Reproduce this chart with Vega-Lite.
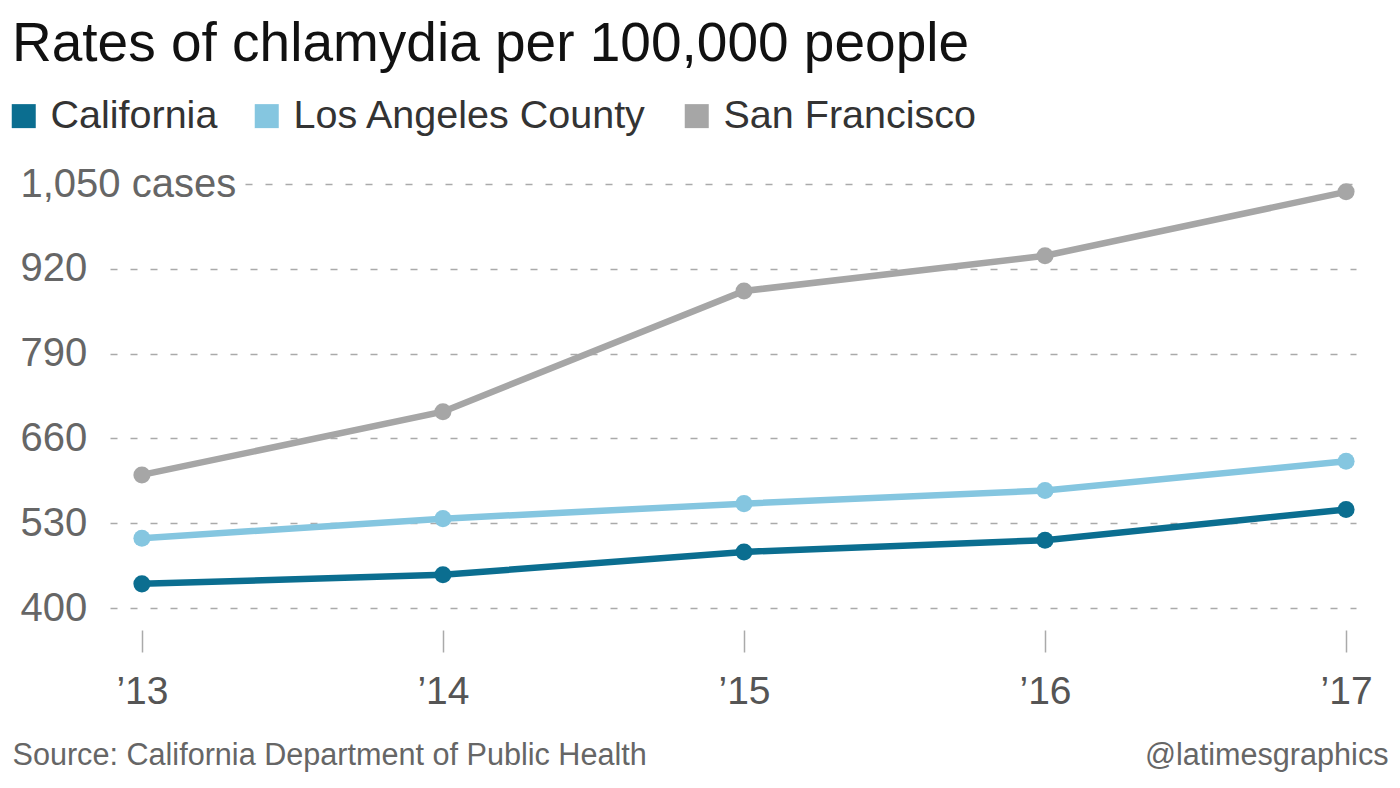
{
  "$schema": "https://vega.github.io/schema/vega-lite/v6.json",
  "width": 1246,
  "height": 424,
  "autosize": {"type": "none"},
  "padding": {"left": 110, "top": 184, "right": 44, "bottom": 180},
  "background": "white",
  "config": {
    "font": "Liberation Sans",
    "view": {"stroke": null}
  },
  "title": {
    "text": "Rates of chlamydia per 100,000 people",
    "anchor": "start",
    "frame": "group",
    "orient": "top",
    "fontSize": 55,
    "fontWeight": "normal",
    "color": "#111111",
    "dx": -98,
    "offset": 0,
    "baseline": "alphabetic",
    "dy": 20
  },
  "data": {
    "values": [
      {"year": 2013, "series": "California", "rate": 437},
      {"year": 2014, "series": "California", "rate": 451},
      {"year": 2015, "series": "California", "rate": 486},
      {"year": 2016, "series": "California", "rate": 504},
      {"year": 2017, "series": "California", "rate": 551},
      {"year": 2013, "series": "Los Angeles County", "rate": 507},
      {"year": 2014, "series": "Los Angeles County", "rate": 537},
      {"year": 2015, "series": "Los Angeles County", "rate": 560},
      {"year": 2016, "series": "Los Angeles County", "rate": 580},
      {"year": 2017, "series": "Los Angeles County", "rate": 625},
      {"year": 2013, "series": "San Francisco", "rate": 604},
      {"year": 2014, "series": "San Francisco", "rate": 701},
      {"year": 2015, "series": "San Francisco", "rate": 886},
      {"year": 2016, "series": "San Francisco", "rate": 940},
      {"year": 2017, "series": "San Francisco", "rate": 1038}
    ]
  },
  "encoding": {
    "x": {
      "field": "year",
      "type": "quantitative",
      "scale": {"domain": [2012.894, 2017.033], "nice": false, "zero": false},
      "axis": {
        "values": [2013, 2014, 2015, 2016, 2017],
        "labelExpr": "'’' + substring(toString(datum.value), 2)",
        "grid": false,
        "domain": false,
        "offset": 22,
        "ticks": true,
        "tickSize": 22,
        "tickColor": "#aaaaaa",
        "tickWidth": 1.5,
        "labelFontSize": 39,
        "labelColor": "#555555",
        "labelPadding": 20,
        "labelFlush": false,
        "title": "Source: California Department of Public Health",
        "titleFontSize": 30.6,
        "titleFontWeight": "normal",
        "titleColor": "#666666",
        "titleAnchor": "start",
        "titleAlign": "left",
        "titleBaseline": "middle",
        "titleX": -98,
        "titleY": 125
      }
    },
    "y": {
      "field": "rate",
      "type": "quantitative",
      "scale": {"domain": [400, 1050], "nice": false, "zero": false},
      "axis": {
        "values": [400, 530, 660, 790, 920, 1050],
        "labelExpr": "datum.value == 1050 ? '1,050 cases' : datum.label",
        "domain": false,
        "ticks": false,
        "tickSize": 0,
        "grid": true,
        "gridColor": "#aaaaaa",
        "gridWidth": 1.5,
        "gridDash": {
          "condition": {"test": "datum.value == 1050", "value": [0, 135, 7, 13, 7, 13, 7, 13, 7, 13, 7, 13, 7, 13, 7, 13, 7, 13, 7, 13, 7, 13, 7, 13, 7, 13, 7, 13, 7, 13, 7, 13, 7, 13, 7, 13, 7, 13, 7, 13, 7, 13, 7, 13, 7, 13, 7, 13, 7, 13, 7, 13, 7, 13, 7, 13, 7, 13, 7, 13, 7, 13, 7, 13, 7, 13, 7, 13, 7, 13, 7, 13, 7, 13, 7, 13, 7, 13, 7, 13, 7, 13, 7, 13, 7, 13, 7, 13, 7, 13, 7, 13, 7, 13, 7, 13, 7, 13, 7, 13, 7, 13, 7, 13, 7, 13, 7, 13, 7, 13, 7, 13, 7, 13, 7, 13, 7, 13, 7, 13, 7, 13, 7, 13, 7, 13, 7, 13, 7, 13, 7, 13, 7, 13, 7, 13, 7, 13, 7, 13, 7, 13, 7, 13, 7, 13, 7, 13, 7, 13, 7, 13, 7, 13, 7, 13, 7, 13, 7, 13, 7, 13, 7, 13, 7, 13, 7, 13, 7, 13, 7, 13, 7, 13, 7, 13, 7, 13, 7, 13, 7, 13, 7, 13, 7, 13, 7, 13]},
          "value": [7, 13]
        },
        "labelAlign": "left",
        "labelBaseline": "middle",
        "labelPadding": 90,
        "labelLimit": 400,
        "labelFontSize": 40,
        "labelColor": "#666666",
        "title": "@latimesgraphics",
        "titleAngle": 0,
        "titleFontSize": 30.6,
        "titleFontWeight": "normal",
        "titleColor": "#666666",
        "titleAlign": "right",
        "titleBaseline": "middle",
        "titleX": 1278,
        "titleY": 571
      }
    },
    "color": {
      "field": "series",
      "type": "nominal",
      "scale": {
        "domain": ["California", "Los Angeles County", "San Francisco"],
        "range": ["#0b6e90", "#85c6e0", "#a6a6a6"]
      },
      "legend": {
        "orient": "none",
        "direction": "horizontal",
        "legendX": -106,
        "legendY": -88,
        "title": null,
        "symbolType": "square",
        "symbolSize": 576,
        "symbolStrokeWidth": 0,
        "symbolOpacity": 1,
        "labelFontSize": 39.5,
        "labelColor": "#333333",
        "labelOffset": 7,
        "columnPadding": 29,
        "labelLimit": 500
      }
    }
  },
  "layer": [
    {"mark": {"type": "line", "strokeWidth": 6.5}},
    {"mark": {"type": "circle", "size": 290, "opacity": 1}}
  ]
}
